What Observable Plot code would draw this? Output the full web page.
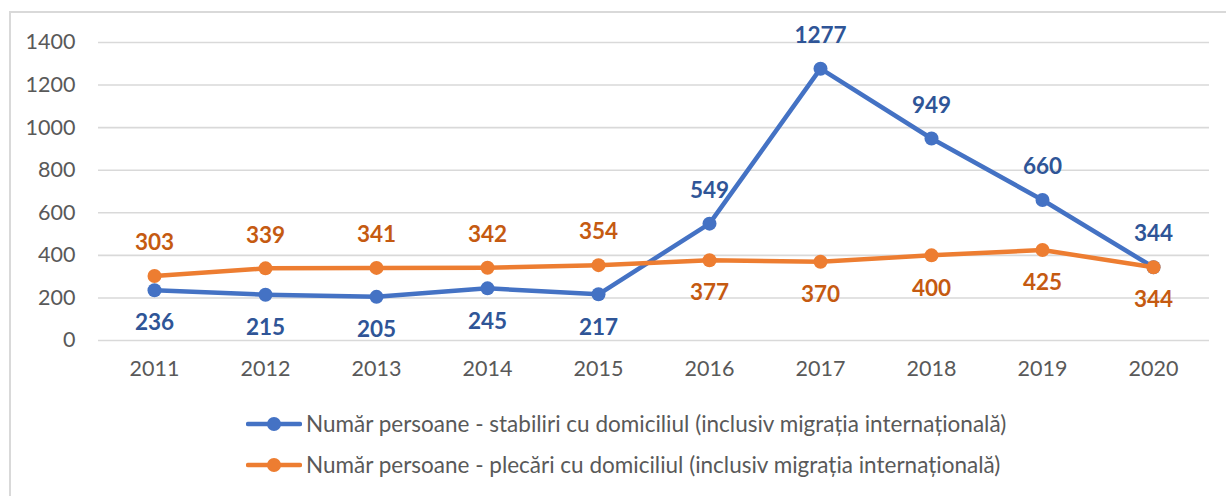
<!DOCTYPE html>
<html>
<head>
<meta charset="utf-8">
<script src="https://cdn.jsdelivr.net/npm/d3@7"></script>
<script src="https://cdn.jsdelivr.net/npm/@observablehq/plot@0.6"></script>
<style>
  html, body { margin: 0; padding: 0; background: #fff; }
  body { width: 1226px; height: 496px; overflow: hidden; position: relative; font-family: Lato, "Open Sans", sans-serif; }
  #frame { position: absolute; left: 9px; top: 11px; width: 1300px; height: 600px; border: 2px solid #d9d9d9; box-sizing: border-box; }
  #chart { position: absolute; left: 0; top: 0; }
  #legend { position: absolute; left: 246px; top: 403px; color: #595959; font-size: 22.5px; }
  .item { display: flex; align-items: center; height: 41px; }
  .item svg { margin-right: 4px; }
</style>
</head>
<body>
<div id="frame"></div>
<div id="chart"></div>
<div id="legend"></div>
<script>
const years = ["2011","2012","2013","2014","2015","2016","2017","2018","2019","2020"];
const stabiliri = [236, 215, 205, 245, 217, 549, 1277, 949, 660, 344];
const plecari = [303, 339, 341, 342, 354, 377, 370, 400, 425, 344];
const seriesNames = [
  "Număr persoane - stabiliri cu domiciliul (inclusiv migrația internațională)",
  "Număr persoane - plecări cu domiciliul (inclusiv migrația internațională)"
];
const yTicks = [0, 200, 400, 600, 800, 1000, 1200, 1400];
const lineColors = ["#4472C4", "#ED7D31"];
const labelColors = ["#2F5597", "#C55A11"];

const rows = [];
years.forEach((yr, i) => {
  rows.push({year: yr, value: stabiliri[i], s: 0, above: stabiliri[i] >= plecari[i]});
  rows.push({year: yr, value: plecari[i], s: 1, above: plecari[i] > stabiliri[i]});
});
const s0 = rows.filter(d => d.s === 0);
const s1 = rows.filter(d => d.s === 1);

const font = "Lato, 'Open Sans', sans-serif";
const chart = Plot.plot({
  width: 1226,
  height: 395,
  marginTop: 42,
  marginBottom: 55,
  marginLeft: 98,
  marginRight: 17,
  style: {fontFamily: font, background: "transparent"},
  x: {type: "point", domain: years, padding: 0, insetLeft: 55.5, insetRight: 55.5, label: null},
  y: {domain: [0, 1400], label: null},
  marks: [
    Plot.ruleY(yTicks, {stroke: "#d9d9d9", strokeWidth: 1.6}),
    Plot.axisY({ticks: yTicks, tickFormat: d => String(d), tickSize: 0, tickPadding: 23, fontSize: 21.5, fill: "#595959", label: null}),
    Plot.axisX({tickSize: 0, tickPadding: 20, fontSize: 21.5, fill: "#595959", label: null}),
    Plot.line(s0, {x: "year", y: "value", stroke: lineColors[0], strokeWidth: 4.5}),
    Plot.dot(s0, {x: "year", y: "value", fill: lineColors[0], r: 7}),
    Plot.line(s1, {x: "year", y: "value", stroke: lineColors[1], strokeWidth: 4.5}),
    Plot.dot(s1, {x: "year", y: "value", fill: lineColors[1], r: 7}),
    Plot.text(rows.filter(d => d.above), {x: "year", y: "value", text: d => String(d.value), dy: -33, fill: d => labelColors[d.s], fontWeight: "bold", fontSize: 22.5}),
    Plot.text(rows.filter(d => !d.above), {x: "year", y: "value", text: d => String(d.value), dy: 33, fill: d => labelColors[d.s], fontWeight: "bold", fontSize: 22.5})
  ]
});
document.getElementById("chart").appendChild(chart);

const legend = document.getElementById("legend");
seriesNames.forEach((name, i) => {
  const item = document.createElement("div");
  item.className = "item";
  item.innerHTML = `<svg width="56" height="16"><line x1="2" y1="8" x2="54" y2="8" stroke="${lineColors[i]}" stroke-width="4.5" stroke-linecap="round"/><circle cx="28" cy="8" r="7" fill="${lineColors[i]}"/></svg><span>${name}</span>`;
  legend.appendChild(item);
});
</script>
</body>
</html>
